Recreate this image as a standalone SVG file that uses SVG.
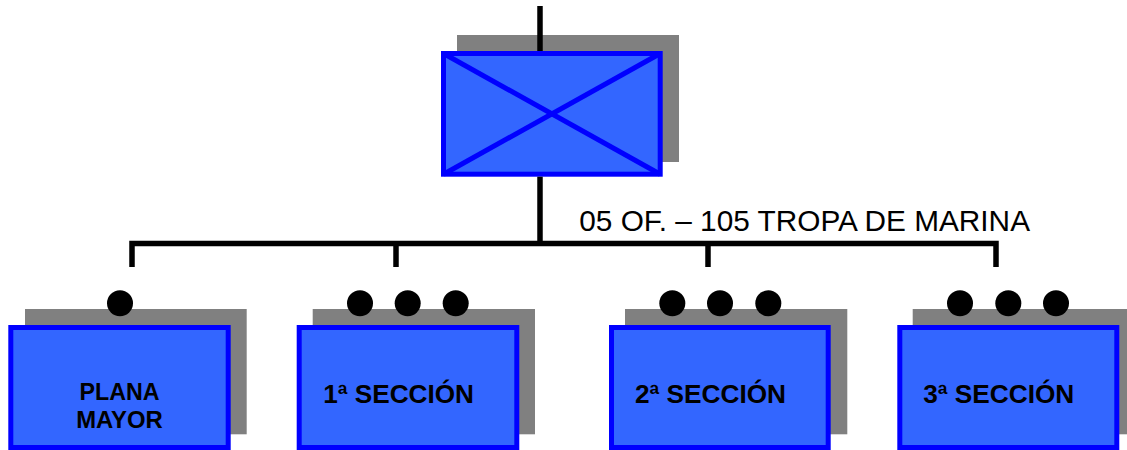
<svg xmlns="http://www.w3.org/2000/svg" width="1127" height="450" viewBox="0 0 1127 450">
<style>
.sh{fill:#808080}
.bx{fill:#3366FF;stroke:#0000FF;stroke-width:5}
.x{stroke:#0000FF;stroke-width:5}
.ln{stroke:#000;stroke-width:5.5;fill:none}
.dot{fill:#000}
.lbl{font-family:"Liberation Sans",Arial,sans-serif;font-weight:bold;font-size:26px;fill:#000}
.pm{font-family:"Liberation Sans",Arial,sans-serif;font-weight:bold;font-size:23px;fill:#000;text-anchor:middle}
.top{font-family:"Liberation Sans",Arial,sans-serif;font-size:29.3px;fill:#000}
</style>
<rect width="1127" height="450" fill="#fff"/>
<g id="hq">
<rect class="sh" x="457" y="35" width="222" height="127"/>
<rect class="bx" x="443.5" y="53.5" width="216.7" height="120.7"/>
<line class="x" x1="443.5" y1="53.5" x2="660.2" y2="174.2"/>
<line class="x" x1="660.2" y1="53.5" x2="443.5" y2="174.2"/>
</g>
<g id="plana">
<rect class="sh" x="25" y="309" width="221.7" height="125.3"/>
<rect class="bx" x="10.8" y="327.5" width="217.4" height="120"/>
<circle class="dot" cx="120" cy="303.3" r="13"/>
<text class="pm" x="119.5" y="399.5" textLength="80" lengthAdjust="spacingAndGlyphs">PLANA</text>
<text class="pm" x="119.5" y="427.7" textLength="86.7" lengthAdjust="spacingAndGlyphs">MAYOR</text>
</g>
<g id="s1">
<rect class="sh" x="312.7" y="309" width="222.3" height="125.3"/>
<rect class="bx" x="299.2" y="327.5" width="217.6" height="120"/>
<circle class="dot" cx="360" cy="303.3" r="13"/>
<circle class="dot" cx="407.7" cy="303.3" r="13"/>
<circle class="dot" cx="455.7" cy="303.3" r="13"/>
<text class="lbl" x="323.3" y="403" textLength="150.7" lengthAdjust="spacingAndGlyphs">1ª SECCIÓN</text>
</g>
<g id="s2">
<rect class="sh" x="625" y="309" width="222.3" height="125.3"/>
<rect class="bx" x="611.5" y="327.5" width="216.7" height="120"/>
<circle class="dot" cx="672.3" cy="303.3" r="13"/>
<circle class="dot" cx="720" cy="303.3" r="13"/>
<circle class="dot" cx="768.3" cy="303.3" r="13"/>
<text class="lbl" x="635" y="403" textLength="151" lengthAdjust="spacingAndGlyphs">2ª SECCIÓN</text>
</g>
<g id="s3">
<rect class="sh" x="912.7" y="309" width="214.3" height="125.3"/>
<rect class="bx" x="899.8" y="327.5" width="217" height="120"/>
<circle class="dot" cx="960" cy="303.3" r="13"/>
<circle class="dot" cx="1008.3" cy="303.3" r="13"/>
<circle class="dot" cx="1056" cy="303.3" r="13"/>
<text class="lbl" x="923.3" y="403" textLength="151" lengthAdjust="spacingAndGlyphs">3ª SECCIÓN</text>
</g>
<g id="connectors">
<line class="ln" x1="540" y1="6" x2="540" y2="51"/>
<line class="ln" x1="540" y1="176.7" x2="540" y2="243.5"/>
<polyline class="ln" points="132,267 132,243.5 996,243.5 996,267"/>
<line class="ln" x1="396" y1="243.5" x2="396" y2="267"/>
<line class="ln" x1="708" y1="243.5" x2="708" y2="267"/>
</g>
<text class="top" x="579.3" y="230.5" textLength="450.7" lengthAdjust="spacingAndGlyphs">05 OF. – 105 TROPA DE MARINA</text>
</svg>
